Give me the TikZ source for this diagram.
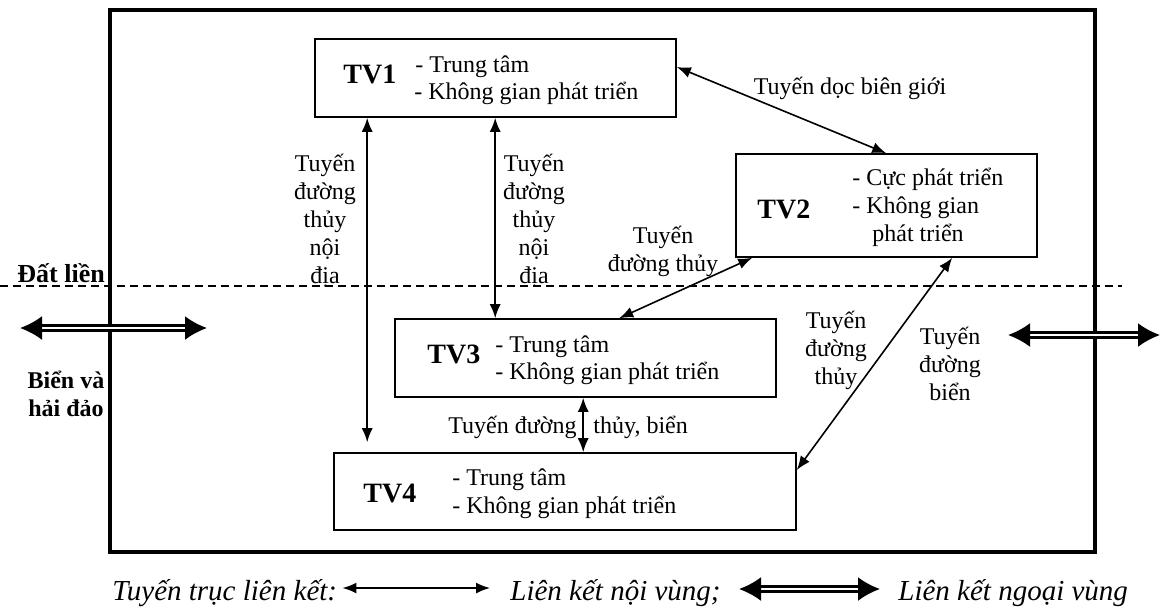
\documentclass[tikz,border=0pt]{standalone}
\usepackage{fontspec}
\setmainfont{Liberation Serif}
\usetikzlibrary{arrows.meta,calc}

\tikzset{
  vung/.style={draw, line width=0.8pt, inner sep=0pt},
  ten/.style={font=\fontsize{14}{16}\selectfont\bfseries, anchor=base west, inner sep=0pt},
  muc/.style={font=\fontsize{12}{14}\selectfont, anchor=base west, inner sep=0pt},
  nhan/.style={font=\fontsize{12}{14}\selectfont, align=center, inner sep=0pt},
  noi/.style={line width=0.8pt, {Latex[length=7pt,width=5.5pt]}-{Latex[length=7pt,width=5.5pt]}},
  ngoai/.style={line width=1.2pt, double distance=1.3pt, {Latex[length=11pt,width=12pt]}-{Latex[length=11pt,width=12pt]}},
}

\begin{document}
\begin{tikzpicture}[x=0.5pt, y=-0.5pt]
	\useasboundingbox (0,0) rectangle (1160,607);
	% khung ngoai va ranh gioi dat lien
	\draw[line width=1.7pt] (110,10) rectangle (1095,552);
	\draw[dashed, line width=0.6pt, dash pattern=on 4pt off 2.5pt] (0,286) -- (1122,286);
	
	% cac tieu vung
	\node[vung, minimum width=180.5pt, minimum height=39pt] (tv1) at (495.5,78) {};
	\node[vung, minimum width=150.5pt, minimum height=51.5pt] (tv2) at (886.5,205.5) {};
	\node[vung, minimum width=190.5pt, minimum height=39pt] (tv3) at (585.5,358) {};
	\node[vung, minimum width=231pt, minimum height=38.5pt] (tv4) at (565,491.5) {};
	
	% noi dung trong cac o
	\node[ten] (ten1) at (343,83) {TV1};
	\node[muc] (m1a) at (415,72) {- Trung tâm};
	\node[muc] (m1b) at (414,99) {- Không gian phát triển};
	\node[ten] (ten2) at (757,218) {TV2};
	\node[muc] (m2a) at (852,185) {- Cực phát triển};
	\node[muc] (m2b) at (852,213) {- Không gian};
	\node[muc] (m2c) at (872,241) {phát triển};
	\node[ten] (ten3) at (427,363) {TV3};
	\node[muc] (m3a) at (495,352) {- Trung tâm};
	\node[muc] (m3b) at (495,379) {- Không gian phát triển};
	\node[ten] (ten4) at (363,502) {TV4};
	\node[muc] (m4a) at (452,485) {- Trung tâm};
	\node[muc] (m4b) at (452,513) {- Không gian phát triển};
	
	% cac tuyen lien ket noi vung
	\draw[noi] ($(tv1.south west)+(53,0)$) -- ($(tv4.north west)+(34,-10)$);
	\draw[noi] ($(tv1.south west)+(181,0)$) -- ($(tv3.north west)+(101,0)$);
	\draw[noi] ($(tv3.south west)+(189,0)$) -- ($(tv4.north west)+(250,0)$);
	\draw[noi] ($(tv1.east)+(0,-11)$) -- ($(tv2.north west)+(151,0)$);
	\draw[noi] ($(tv2.south west)+(17,0)$) -- ($(tv3.north west)+(225,0)$);
	\draw[noi] ($(tv2.south west)+(217,0)$) -- ($(tv4.east)+(0,-21.5)$);
	
	% nhan cac tuyen
	\node[nhan] (n14) at (325,221) {Tuyến\\đường\\thủy\\nội\\địa};
	\node[nhan] (n13) at (534,221) {Tuyến\\đường\\thủy\\nội\\địa};
	\node[nhan] (n12) at (850,88) {Tuyến dọc biên giới};
	\node[nhan] (n23) at (663,251) {Tuyến\\đường thủy};
	\node[nhan] (n24) at (836,350) {Tuyến\\đường\\thủy};
	\node[nhan] (nbien) at (950,364) {Tuyến\\đường\\biển};
	\node[muc] (n34a) at (448,433) {Tuyến đường};
	\node[muc] (n34b) at (593,433) {thủy, biển};
	
	% lien ket ngoai vung
	\coordinate (ntrai) at (20,328);
	\coordinate (ttrai) at (207,328);
	\coordinate (nphai) at (1008,335);
	\coordinate (tphai) at (1160,335);
	\draw[ngoai] (ntrai) -- (ttrai);
	\draw[ngoai] (nphai) -- (tphai);
	\node[font=\fontsize{13}{15}\selectfont\bfseries, anchor=base west, inner sep=0pt] (dat) at (17,282) {Đất liền};
	\node[font=\fontsize{12}{14}\selectfont\bfseries, align=center, inner sep=0pt] (bien) at (66,394) {Biển và\\hải đảo};
	
	% chu giai
	\node[font=\fontsize{14.5}{16}\selectfont\itshape, anchor=base west, inner sep=0pt] (cg) at (112,600) {Tuyến trục liên kết:};
	\node[font=\fontsize{14.5}{16}\selectfont\itshape, anchor=base west, inner sep=0pt] (cgnoi) at (510,600) {Liên kết nội vùng;};
	\node[font=\fontsize{14.5}{16}\selectfont\itshape, anchor=base west, inner sep=0pt] (cgngoai) at (898,600) {Liên kết ngoại vùng};
	\draw[noi] ($(cg.base east)+(5,-12)$) -- ($(cgnoi.base west)+(-20,-12)$);
	\draw[ngoai] ($(cgnoi.base east)+(18,-11)$) -- ($(cgngoai.base west)+(-18,-11)$);
\end{tikzpicture}
\end{document}
